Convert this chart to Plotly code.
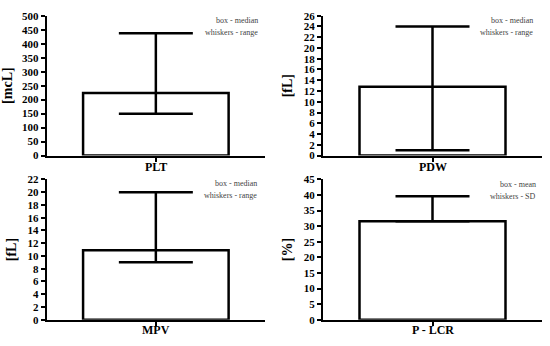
import plotly.graph_objects as go

# Data
categories = ["PLT", "PDW", "MPV", "P - LCR"]
units = ["[mcL]", "[fL]", "[fL]", "[%]"]
box_values = [224, 12.8, 10.9, 31.6]
whisker_high = [437, 24.0, 20.0, 39.6]
whisker_low = [150, 1.0, 9.0, 31.6]
y_max = [500, 26, 22, 45]
y_dtick = [50, 2, 2, 5]
note_top = ["box - median", "box - median", "box - median", "box - mean"]
note_bottom = ["whiskers - range", "whiskers - range", "whiskers - range", "whiskers - SD"]

W, H = 550, 346
# panel pixel boxes: (x0, x1, ytop, ybottom)
panels = [(46.7, 265, 10, 155), (323, 542, 10, 155),
          (46.7, 265, 179.7, 325), (323, 542, 179.7, 325)]
note_pos = [(260, 15, 27), (535, 15, 27), (259, 184, 196.5), (538, 184.5, 197)]
label_y = [167, 167, 336, 336]

FONT = "Liberation Serif"
fig = go.Figure()
layout = dict(width=W, height=H, margin=dict(l=0, r=0, t=0, b=0),
              paper_bgcolor="white", plot_bgcolor="white", showlegend=False)
annotations = []
for i in range(4):
    xa = "x" if i == 0 else f"x{i+1}"
    ya = "y" if i == 0 else f"y{i+1}"
    fig.add_trace(go.Bar(
        x=[0], y=[box_values[i]], width=1.0,
        marker=dict(color="white", line=dict(color="black", width=2.5)),
        error_y=dict(type="data", symmetric=False,
                     array=[whisker_high[i] - box_values[i]],
                     arrayminus=[box_values[i] - whisker_low[i]],
                     color="black", thickness=2.5, width=37),
        xaxis=xa, yaxis=ya, hoverinfo="skip"))
    x0, x1, yt, yb = panels[i]
    layout["xaxis" if i == 0 else f"xaxis{i+1}"] = dict(
        domain=[x0 / W, x1 / W], range=[-0.75, 0.75], anchor=ya,
        showline=True, linecolor="black", linewidth=2, showgrid=False, zeroline=False,
        tickvals=[0], ticktext=[""], ticks="outside", ticklen=4,
        tickwidth=2, tickcolor="black")
    layout["yaxis" if i == 0 else f"yaxis{i+1}"] = dict(
        domain=[1 - yb / H, 1 - yt / H], range=[0, y_max[i]], anchor=xa,
        dtick=y_dtick[i], tick0=0,
        showline=True, linecolor="black", linewidth=2, showgrid=False, zeroline=False,
        ticks="outside", ticklen=4, tickwidth=2, tickcolor="black",
        tickfont=dict(family=FONT, size=11, color="black", weight="bold"),
        title=dict(text=units[i], standoff=8,
                   font=dict(family=FONT, size=14, color="black", weight="bold")))
    annotations.append(dict(text=categories[i], x=(x0 + x1) / 2 / W, y=1 - label_y[i] / H,
                            xref="paper", yref="paper", xanchor="center", yanchor="middle",
                            showarrow=False,
                            font=dict(family=FONT, size=12, color="black", weight="bold")))
    nx, ny1, ny2 = note_pos[i]
    for txt, ny in ((note_top[i], ny1), (note_bottom[i], ny2)):
        annotations.append(dict(text=txt, x=nx / W, y=1 - ny / H, xref="paper", yref="paper",
                                xanchor="right", yanchor="middle", showarrow=False,
                                font=dict(family=FONT, size=8, color="#444444")))
layout["annotations"] = annotations
fig.update_layout(**layout)
fig.write_html("out.html", config={"displayModeBar": False},
               post_script="document.body.style.margin='0';document.body.style.overflow='hidden';")
